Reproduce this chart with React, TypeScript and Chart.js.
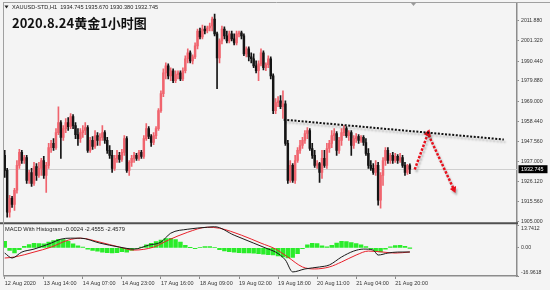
import React, { useEffect, useRef } from 'react';
import { Chart, registerables } from 'chart.js';

Chart.register(...registerables);

// ---------------- XAUUSD H1 candles (bar 0 = 12 Aug 21:00) ----------------
const openP: number[] = [
  1940.1, 1932.1, 1909.8, 1917.2, 1914.0, 1921.5, 1934.8, 1941.7, 1937.4, 1939.0,
  1926.8, 1931.0, 1925.2, 1934.2, 1929.5, 1933.2, 1937.4, 1929.5, 1934.8, 1944.3,
  1946.5, 1944.3, 1952.3, 1957.6, 1949.7, 1954.4, 1957.6, 1955.5, 1960.8, 1956.0,
  1951.2, 1949.1, 1952.3, 1953.4, 1955.0, 1942.8, 1948.1, 1944.9, 1950.7, 1948.1,
  1949.7, 1952.3, 1948.1, 1942.8, 1940.1, 1933.2, 1938.5, 1940.1, 1938.0, 1941.7,
  1949.1, 1932.1, 1936.4, 1938.5, 1940.1, 1938.5, 1941.7, 1939.6, 1949.1, 1954.4,
  1950.2, 1947.0, 1950.7, 1954.4, 1964.0, 1973.1, 1984.2, 1987.9, 1982.6, 1985.3,
  1980.0, 1983.2, 1984.2, 1981.0, 1985.3, 1991.7, 1994.9, 1990.6, 1992.7, 1998.6,
  2006.5, 2003.4, 2007.6, 2006.5, 2008.1, 2009.2, 2012.9, 2005.0, 1992.2, 2001.2,
  2007.6, 2003.9, 2001.2, 2005.0, 2002.3, 2000.2, 2005.0, 2005.5, 2003.9, 1994.3,
  1997.0, 1992.7, 1991.7, 1987.9, 1985.3, 1989.0, 1994.9, 1986.9, 1988.5, 1991.7,
  1982.6, 1964.0, 1968.3, 1969.3, 1966.1, 1967.7, 1946.5, 1926.8, 1934.8, 1926.8,
  1937.4, 1942.8, 1945.4, 1948.1, 1951.8, 1953.4, 1943.8, 1940.1, 1934.8, 1935.8,
  1931.0, 1938.5, 1934.8, 1943.8, 1946.5, 1950.7, 1951.8, 1942.8, 1948.1, 1952.3,
  1954.4, 1950.7, 1952.3, 1945.4, 1949.1, 1950.2, 1948.1, 1949.7, 1947.0, 1941.2,
  1934.8, 1933.2, 1931.0, 1934.8, 1916.2, 1929.5, 1937.4, 1942.8, 1937.4, 1940.1,
  1937.4, 1939.6, 1937.4, 1939.0, 1934.8, 1931.0, 1934.745,
];
const highP: number[] = [
  1942.8, 1933.2, 1918.8, 1918.3, 1922.5, 1937.4, 1943.3, 1942.8, 1940.1, 1940.1,
  1932.1, 1933.2, 1936.4, 1935.8, 1936.4, 1938.5, 1939.6, 1936.4, 1946.5, 1948.1,
  1949.1, 1954.4, 1966.1, 1958.7, 1956.0, 1959.8, 1960.3, 1962.4, 1961.9, 1957.6,
  1954.4, 1954.4, 1956.0, 1957.6, 1956.0, 1949.7, 1950.2, 1953.4, 1952.3, 1951.8,
  1956.0, 1953.4, 1949.7, 1945.4, 1942.8, 1940.1, 1942.8, 1941.7, 1943.3, 1950.7,
  1950.2, 1937.4, 1940.1, 1941.7, 1941.2, 1942.8, 1942.8, 1950.7, 1957.1, 1955.5,
  1951.2, 1952.3, 1955.5, 1965.1, 1974.6, 1986.3, 1989.5, 1989.0, 1986.9, 1986.3,
  1985.3, 1985.3, 1985.3, 1986.9, 1993.3, 1997.0, 1995.9, 1993.8, 2000.2, 2007.6,
  2008.1, 2009.7, 2009.2, 2009.2, 2010.8, 2014.0, 2015.6, 2006.0, 2002.3, 2009.2,
  2008.7, 2006.5, 2006.5, 2006.5, 2005.0, 2006.5, 2006.5, 2006.5, 2005.0, 1998.0,
  1998.0, 1994.9, 1994.3, 1990.6, 1990.6, 1997.0, 1995.9, 1989.5, 1993.3, 1992.7,
  1983.7, 1970.4, 1971.5, 1972.0, 1974.6, 1969.3, 1948.1, 1937.4, 1935.8, 1940.1,
  1944.3, 1948.1, 1949.7, 1953.4, 1955.0, 1954.4, 1946.5, 1942.8, 1937.4, 1936.4,
  1942.8, 1942.8, 1946.5, 1948.1, 1953.4, 1954.4, 1952.8, 1949.7, 1954.4, 1956.0,
  1955.5, 1953.4, 1953.4, 1950.7, 1951.8, 1951.2, 1950.7, 1950.7, 1949.1, 1943.8,
  1937.4, 1935.8, 1937.4, 1936.4, 1931.0, 1939.0, 1944.3, 1944.3, 1941.2, 1941.7,
  1941.2, 1940.6, 1941.2, 1940.1, 1936.4, 1935.3, 1935.670,
];
const lowP: number[] = [
  1928.4, 1907.1, 1907.1, 1912.4, 1910.8, 1919.9, 1933.2, 1935.8, 1935.8, 1925.2,
  1925.2, 1923.6, 1924.1, 1926.8, 1928.4, 1929.5, 1927.9, 1920.4, 1933.2, 1941.7,
  1942.8, 1943.3, 1951.2, 1938.5, 1948.1, 1952.3, 1953.4, 1954.4, 1954.4, 1949.1,
  1945.4, 1947.0, 1949.7, 1951.2, 1941.7, 1941.7, 1943.3, 1943.8, 1945.4, 1945.4,
  1948.1, 1946.5, 1941.2, 1938.5, 1931.0, 1932.1, 1936.4, 1936.4, 1936.9, 1940.1,
  1931.0, 1929.5, 1934.2, 1936.4, 1937.4, 1937.4, 1938.5, 1938.5, 1948.1, 1949.1,
  1944.9, 1945.9, 1949.1, 1953.4, 1963.0, 1971.5, 1981.0, 1981.0, 1980.0, 1978.9,
  1978.9, 1981.0, 1980.0, 1980.0, 1984.2, 1989.5, 1989.5, 1989.0, 1991.7, 1997.0,
  2002.3, 2002.3, 2005.0, 2005.5, 2006.5, 2006.5, 2003.9, 1975.7, 1989.5, 1999.6,
  2002.3, 2000.2, 2000.2, 2001.2, 1999.1, 1999.1, 2003.4, 2002.3, 1993.3, 1992.7,
  1990.6, 1989.5, 1986.9, 1984.2, 1980.0, 1987.9, 1985.8, 1985.3, 1986.9, 1981.0,
  1962.4, 1962.4, 1966.1, 1965.1, 1959.8, 1945.4, 1925.2, 1925.7, 1925.7, 1925.2,
  1936.4, 1941.2, 1943.8, 1946.5, 1949.1, 1942.8, 1938.5, 1933.7, 1933.2, 1925.7,
  1927.9, 1933.7, 1933.2, 1941.7, 1944.3, 1948.1, 1940.1, 1941.2, 1945.4, 1950.7,
  1949.7, 1948.1, 1940.1, 1943.8, 1947.0, 1946.5, 1947.0, 1945.4, 1940.1, 1933.2,
  1932.1, 1930.0, 1929.5, 1913.5, 1911.9, 1924.1, 1934.8, 1935.8, 1935.8, 1935.8,
  1936.4, 1935.8, 1936.4, 1933.7, 1929.5, 1930.0, 1930.380,
];
const closeP: number[] = [
  1932.1, 1909.8, 1917.2, 1914.0, 1921.5, 1934.8, 1941.7, 1937.4, 1939.0, 1926.8,
  1931.0, 1925.2, 1934.2, 1929.5, 1933.2, 1937.4, 1929.5, 1934.8, 1944.3, 1946.5,
  1944.3, 1952.3, 1957.6, 1949.7, 1954.4, 1957.6, 1955.5, 1960.8, 1956.0, 1951.2,
  1949.1, 1952.3, 1953.4, 1955.0, 1942.8, 1948.1, 1944.9, 1950.7, 1948.1, 1949.7,
  1952.3, 1948.1, 1942.8, 1940.1, 1933.2, 1938.5, 1940.1, 1938.0, 1941.7, 1949.1,
  1932.1, 1936.4, 1938.5, 1940.1, 1938.5, 1941.7, 1939.6, 1949.1, 1954.4, 1950.2,
  1947.0, 1950.7, 1954.4, 1964.0, 1973.1, 1984.2, 1987.9, 1982.6, 1985.3, 1980.0,
  1983.2, 1984.2, 1981.0, 1985.3, 1991.7, 1994.9, 1990.6, 1992.7, 1998.6, 2006.5,
  2003.4, 2007.6, 2006.5, 2008.1, 2009.2, 2012.9, 2005.0, 1992.2, 2001.2, 2007.6,
  2003.9, 2001.2, 2005.0, 2002.3, 2000.2, 2005.0, 2005.5, 2003.9, 1994.3, 1997.0,
  1992.7, 1991.7, 1987.9, 1985.3, 1989.0, 1994.9, 1986.9, 1988.5, 1991.7, 1982.6,
  1964.0, 1968.3, 1969.3, 1966.1, 1967.7, 1946.5, 1926.8, 1934.8, 1926.8, 1937.4,
  1942.8, 1945.4, 1948.1, 1951.8, 1953.4, 1943.8, 1940.1, 1934.8, 1935.8, 1931.0,
  1938.5, 1934.8, 1943.8, 1946.5, 1950.7, 1951.8, 1942.8, 1948.1, 1952.3, 1954.4,
  1950.7, 1952.3, 1945.4, 1949.1, 1950.2, 1948.1, 1949.7, 1947.0, 1941.2, 1934.8,
  1933.2, 1931.0, 1934.8, 1916.2, 1929.5, 1937.4, 1942.8, 1937.4, 1940.1, 1937.4,
  1939.6, 1937.4, 1939.0, 1934.8, 1931.0, 1934.7, 1932.745,
];

// ---------------- MACD With Histogram ----------------
const macdBar: number[] = [0, 3, 7, 12, 19, 23, 27, 31, 39, 47, 53, 59, 64, 68, 75, 83, 86, 94, 102, 108, 111, 115, 118, 123, 129, 133, 138, 143, 147, 151, 153, 157, 161, 166];
const macdVal: number[] = [-3.1, -6.1, -2.5, -0.7, 2.9, 5.3, 5.9, 5.9, 2.9, 0.5, -0.7, 1.7, 3.5, 8.9, 11.3, 12.5, 12.8, 7.7, 2.9, -0.7, -2.5, -7.3, -14.5, -12.7, -11.5, -10.3, -5.5, -1.9, -0.7, -1.3, -4.3, -3.1, -2.5, -2.4555];
const signalBar: number[] = [0, 4, 12, 19, 26, 31, 39, 47, 53, 61, 67, 75, 83, 88, 97, 105, 111, 116, 122, 127, 133, 138, 144, 149, 155, 160, 166];
const signalVal: number[] = [-6.1, -5.5, -2.5, 0.5, 4.7, 5.9, 3.5, 0.5, -1.3, 0.5, 4.7, 9.5, 12.5, 11.9, 7.7, 2.9, -0.7, -5.5, -11.5, -12.7, -11.5, -8.5, -4.3, -1.9, -2.5, -3.1, -2.4579];
const histStep = 2; // one histogram value every 2 bars
const histVal: number[] = [
  4.0, -1.5, -3.0, -1.0, 1.0, 2.0, 2.8, 2.6, 2.5, 3.5,
  4.5, 5.2, 5.0, 4.0, 2.5, 1.2, 0.5, -0.8, -1.5, -2.0,
  -2.5, -2.8, -3.0, -2.8, -2.2, -2.5, -1.5, -0.3, 0.5, 1.8,
  2.8, 3.8, 4.8, 5.6, 5.8, 5.0, 3.5, 1.5, 0.2, -0.4,
  0.3, 0.8, 0.8, 0.3, -1.0, -1.8, -2.2, -2.5, -2.8, -3.0,
  -3.0, -3.2, -3.5, -3.8, -4.0, -4.3, -4.8, -5.5, -6.0, -5.8,
  -3.5, -0.5, 1.8, 2.8, 2.6, 1.2, 0.6, 1.5, 3.0, 4.0,
  3.8, 3.2, 2.6, 1.8, 0.8, -0.5, -2.0, -2.4, -0.8, 0.6,
  1.4, 1.6, 1.0, -0.0024,
];

// ---------------- drawn analysis (trend line + forecast arrow) ----------------
const trendBar: number[] = [114.3, 204.5];
const trendPrice: number[] = [1959.2, 1948.6];
const arrowBar: number[] = [168, 173.4, 184];
const arrowPrice: number[] = [1932.6, 1951.8, 1922.0];

// ---------------- axes ----------------
const xTickBars: number[] = [0, 16, 32, 48, 64, 80, 96, 112, 128, 144, 160];
const xTickLabels: string[] = ['12 Aug 2020', '13 Aug 14:00', '14 Aug 07:00', '14 Aug 23:00', '17 Aug 16:00', '18 Aug 09:00', '19 Aug 02:00', '19 Aug 18:00', '20 Aug 11:00', '21 Aug 04:00', '21 Aug 20:00'];
const priceTicks: number[] = [2011.88, 2001.32, 1990.44, 1979.88, 1969.0, 1958.44, 1947.56, 1937.0, 1926.12, 1915.56, 1905.0];
const priceMin = 1904.47;
const priceMax = 2020.92;
const macdTicks: number[] = [13.7412, 0, -16.9618];
const macdTickLabels: string[] = ['13.7412', '0.00', '-16.9618'];
const macdMin = -16.9618;
const macdMax = 15.547;
const barMin = -0.3;
const barMax = 209.9;

const symbolText = 'XAUUSD-STD,H1';
const titleText = '2020.8.24黄金1小时图';

const upColor = '#f0646e';
const downColor = '#141414';

export default function App() {
  const ref = useRef<HTMLCanvasElement | null>(null);

  useEffect(() => {
    const canvas = ref.current;
    if (!canvas) return;
    const n = closeP.length;
    const last = n - 1;
    const lastClose = closeP[last];
    const colorOf = (i: number) => (closeP[i] >= openP[i] ? upColor : downColor);
    const candleColors = closeP.map((_, i) => colorOf(i));
    const headerText = `${symbolText}  ${openP[last].toFixed(3)} ${highP[last].toFixed(3)} ${lowP[last].toFixed(3)} ${closeP[last].toFixed(3)}`;
    const macdLabel = `MACD With Histogram ${histVal[histVal.length - 1].toFixed(4)} ${macdVal[macdVal.length - 1].toFixed(4)} ${signalVal[signalVal.length - 1].toFixed(4)}`;

    const overlay = {
      id: 'mt4Overlay',
      beforeDatasetsDraw(chart: any) {
        const { ctx, chartArea, scales } = chart;
        const py = Math.round(scales.y.getPixelForValue(lastClose)) + 0.5;
        ctx.save();
        ctx.strokeStyle = '#cfcfcf';
        ctx.lineWidth = 1;
        ctx.beginPath();
        ctx.moveTo(chartArea.left, py);
        ctx.lineTo(chartArea.right, py);
        ctx.stroke();
        ctx.restore();
      },
      beforeDatasetDraw(chart: any, args: any) {
        const ds = chart.data.datasets[args.index];
        if (ds.shadow) {
          const ctx = chart.ctx;
          ctx.save();
          ctx.shadowColor = 'rgba(0,0,0,0.25)';
          ctx.shadowBlur = 2;
          ctx.shadowOffsetX = 1.5;
          ctx.shadowOffsetY = 2.5;
        }
      },
      afterDatasetDraw(chart: any, args: any) {
        const ds = chart.data.datasets[args.index];
        if (ds.shadow) chart.ctx.restore();
      },
      afterDraw(chart: any) {
        const { ctx, chartArea, scales } = chart;
        ctx.save();
        // panel separator
        const sepY = scales.y2.top + 1;
        ctx.strokeStyle = '#505050';
        ctx.lineWidth = 2;
        ctx.beginPath();
        ctx.moveTo(0, sepY);
        ctx.lineTo(chartArea.right + 1, sepY);
        ctx.stroke();
        // frame
        ctx.strokeStyle = '#a0a0a0';
        ctx.lineWidth = 1;
        ctx.beginPath();
        ctx.moveTo(3, 2.5);
        ctx.lineTo(550, 2.5);
        ctx.moveTo(3.5, 2.5);
        ctx.lineTo(3.5, chartArea.bottom);
        ctx.stroke();
        // chart shift marker
        ctx.fillStyle = '#9a9a9a';
        ctx.beginPath();
        ctx.moveTo(411, 3);
        ctx.lineTo(416, 3);
        ctx.lineTo(413.5, 6);
        ctx.closePath();
        ctx.fill();
        // header
        ctx.fillStyle = '#222';
        ctx.beginPath();
        ctx.moveTo(4.5, 5.5);
        ctx.lineTo(8.5, 5.5);
        ctx.lineTo(6.5, 8.5);
        ctx.closePath();
        ctx.fill();
        ctx.font = '5.6px "Liberation Sans"';
        ctx.textBaseline = 'middle';
        ctx.textAlign = 'left';
        ctx.fillText(headerText, 12, 7.5);
        // title
        ctx.fillStyle = '#111';
        ctx.font = 'bold 13px "Noto Sans CJK SC"';
        ctx.textBaseline = 'alphabetic';
        ctx.fillText(titleText, 12, 28);
        // MACD label
        ctx.fillStyle = '#222';
        ctx.font = '5.7px "Liberation Sans"';
        ctx.textBaseline = 'middle';
        ctx.fillText(macdLabel, 5, scales.y2.top + 7.5);
        // current price box
        const py = scales.y.getPixelForValue(lastClose);
        ctx.fillStyle = '#000';
        ctx.fillRect(chartArea.right + 1.5, py - 4, 29, 8);
        ctx.fillStyle = '#fff';
        ctx.font = '5.4px "Liberation Sans"';
        ctx.fillText(lastClose.toFixed(3), chartArea.right + 4, py + 0.3);
        ctx.restore();
      },
    };

    const tickFont = { family: 'Liberation Sans', size: 5.5 };

    const chart = new Chart(canvas, {
      type: 'bar',
      data: {
        datasets: [
          {
            type: 'line',
            label: 'trend',
            data: trendBar.map((x, k) => ({ x, y: trendPrice[k] })),
            yAxisID: 'y',
            borderColor: '#111',
            borderWidth: 2,
            borderDash: [2, 1.6],
            pointRadius: 0,
            order: 0,
            shadow: true,
          } as any,
          {
            type: 'line',
            label: 'forecast',
            data: arrowBar.map((x, k) => ({ x, y: arrowPrice[k] })),
            yAxisID: 'y',
            borderColor: '#e8101c',
            borderWidth: 2.5,
            borderDash: [2.5, 1.5],
            pointRadius: [0, 4.5, 4],
            pointStyle: 'triangle',
            pointRotation: [0, 20, 155],
            pointBackgroundColor: '#e8101c',
            pointBorderWidth: 0,
            order: 0,
            shadow: true,
          } as any,
          {
            type: 'bar',
            label: 'body',
            data: openP.map((o, i) => ({ x: i, y: [o, closeP[i]] })),
            yAxisID: 'y',
            backgroundColor: candleColors,
            barThickness: 1.8,
            grouped: false,
            borderWidth: 0,
            order: 1,
          } as any,
          {
            type: 'bar',
            label: 'wick',
            data: lowP.map((l, i) => ({ x: i, y: [l, highP[i]] })),
            yAxisID: 'y',
            backgroundColor: candleColors,
            barThickness: 1,
            grouped: false,
            borderWidth: 0,
            order: 2,
          } as any,
          {
            type: 'line',
            label: 'MACD',
            data: macdBar.map((x, k) => ({ x, y: macdVal[k] })),
            yAxisID: 'y2',
            borderColor: '#1a1a1a',
            borderWidth: 1,
            pointRadius: 0,
            cubicInterpolationMode: 'monotone',
            order: 3,
          } as any,
          {
            type: 'line',
            label: 'Signal',
            data: signalBar.map((x, k) => ({ x, y: signalVal[k] })),
            yAxisID: 'y2',
            borderColor: '#e8202a',
            borderWidth: 1,
            pointRadius: 0,
            cubicInterpolationMode: 'monotone',
            order: 4,
          } as any,
          {
            type: 'bar',
            label: 'Histogram',
            data: histVal.map((v, k) => ({ x: k * histStep, y: v })),
            yAxisID: 'y2',
            backgroundColor: '#2aec2a',
            barThickness: 3.8,
            grouped: false,
            borderWidth: 0,
            order: 5,
          } as any,
        ],
      },
      options: {
        responsive: false,
        animation: false,
        events: [],
        layout: { padding: { left: 4, top: 3, right: 0, bottom: 0 } },
        plugins: {
          legend: { display: false },
          tooltip: { enabled: false },
          title: { display: false },
        },
        scales: {
          x: {
            type: 'linear',
            min: barMin,
            max: barMax,
            offset: false,
            afterBuildTicks: (s: any) => {
              s.ticks = xTickBars.map((v) => ({ value: v }));
            },
            afterFit: (s: any) => {
              s.height = 14;
              s.paddingLeft = 0;
              s.paddingRight = 0;
            },
            grid: { drawOnChartArea: false, tickLength: 3, color: '#8a8a8a', offset: false },
            border: { color: '#8c8c8c', width: 1.5 },
            ticks: {
              align: 'start',
              autoSkip: false,
              maxRotation: 0,
              padding: 1,
              color: '#333',
              font: tickFont,
              callback: (v: any) => xTickLabels[xTickBars.indexOf(Number(v))] ?? '',
            },
          },
          y: {
            type: 'linear',
            position: 'right',
            stack: 'panes',
            stackWeight: 219,
            min: priceMin,
            max: priceMax,
            afterBuildTicks: (s: any) => {
              s.ticks = priceTicks.map((v) => ({ value: v }));
            },
            afterFit: (s: any) => {
              s.width = 33;
              s.paddingTop = 0;
              s.paddingBottom = 0;
            },
            grid: { drawOnChartArea: false, tickLength: 2, color: '#8a8a8a' },
            border: { color: '#8c8c8c', width: 1.5 },
            ticks: {
              autoSkip: false,
              padding: 2,
              color: '#333',
              font: { family: 'Liberation Sans', size: 5.2 },
              callback: (v: any) => Number(v).toFixed(3),
            },
          },
          y2: {
            type: 'linear',
            position: 'right',
            stack: 'panes',
            stackWeight: 54,
            min: macdMin,
            max: macdMax,
            afterBuildTicks: (s: any) => {
              s.ticks = macdTicks.map((v) => ({ value: v }));
            },
            afterFit: (s: any) => {
              s.width = 33;
              s.paddingTop = 0;
              s.paddingBottom = 0;
            },
            grid: { drawOnChartArea: false, tickLength: 2, color: '#8a8a8a' },
            border: { color: '#8c8c8c', width: 1.5 },
            ticks: {
              autoSkip: false,
              padding: 2,
              color: '#333',
              font: { family: 'Liberation Sans', size: 5.2, lineHeight: 1.45 },
              callback: (v: any) => {
                const k = macdTicks.indexOf(Number(v));
                const label = macdTickLabels[k] ?? '';
                if (k === 0) return ['', label];
                if (k === macdTicks.length - 1) return [label, ''];
                return label;
              },
            },
          },
        } as any,
      },
      plugins: [overlay],
    } as any);

    return () => chart.destroy();
  }, []);

  return (
    <div style={{ position: 'absolute', left: 0, top: 0, width: 550, height: 290, background: '#f4f4f4' }}>
      <canvas ref={ref} width={550} height={290} style={{ display: 'block', width: 550, height: 290 }} />
    </div>
  );
}
